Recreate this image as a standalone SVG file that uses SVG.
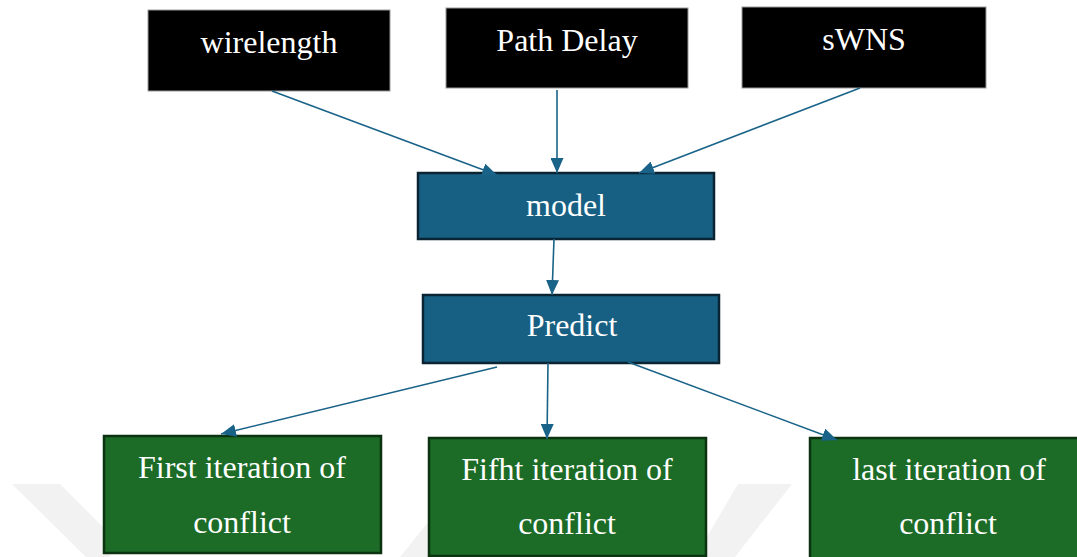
<svg xmlns="http://www.w3.org/2000/svg" width="1077" height="557" viewBox="0 0 1077 557">
  <style>
    .txt { font-family: "Liberation Serif", "Times New Roman", serif; font-size: 32px; fill: #ffffff; text-anchor: middle; }
    .input { fill: #000000; stroke: #9a9a9a; stroke-width: 1; }
    .core { fill: #186083; stroke: #0b2433; stroke-width: 2.5; }
    .result { fill: #1c6b26; stroke: #0b3310; stroke-width: 2.5; }
    .edge { stroke: #1a6388; stroke-width: 1.6; fill: none; marker-end: url(#arrow); }
    .mark { fill: #f2f2f2; }
  </style>
  <defs>
    <marker id="arrow" markerUnits="userSpaceOnUse" markerWidth="15" markerHeight="13" refX="15" refY="6.5" orient="auto">
      <path d="M0,0 L15,6.5 L0,13 z" fill="#1a6388"/>
    </marker>
  </defs>

  <rect width="1077" height="557" fill="#ffffff"/>

  <!-- faint background bands -->
  <g id="backdrop">
    <polygon class="mark" points="12,484 60,484 110,534 110,557 86,557"/>
    <polygon class="mark" points="400,557 430,520 430,557"/>
    <polygon class="mark" points="738,484 792,484 735,557 695,557"/>
  </g>

  <!-- input features -->
  <g id="node-wirelength">
    <rect class="input" x="148" y="10" width="242" height="81"/>
    <text class="txt" x="269" y="53">wirelength</text>
  </g>
  <g id="node-path-delay">
    <rect class="input" x="446" y="8" width="242" height="80"/>
    <text class="txt" x="567" y="51">Path Delay</text>
  </g>
  <g id="node-swns">
    <rect class="input" x="742" y="7" width="244" height="81"/>
    <text class="txt" x="864" y="50">sWNS</text>
  </g>

  <!-- model and prediction -->
  <g id="node-model">
    <rect class="core" x="418" y="173" width="296" height="66"/>
    <text class="txt" x="566" y="216">model</text>
  </g>
  <g id="node-predict">
    <rect class="core" x="423" y="295" width="296" height="68"/>
    <text class="txt" x="572" y="336">Predict</text>
  </g>

  <!-- conflict iterations -->
  <g id="node-first">
    <rect class="result" x="104" y="436" width="277" height="117"/>
    <text class="txt" x="242" y="478">First iteration of</text>
    <text class="txt" x="242" y="533">conflict</text>
  </g>
  <g id="node-fifth">
    <rect class="result" x="429" y="438" width="277" height="118"/>
    <text class="txt" x="567" y="480">Fifht iteration of</text>
    <text class="txt" x="567" y="534">conflict</text>
  </g>
  <g id="node-last">
    <rect class="result" x="810" y="438" width="290" height="125"/>
    <text class="txt" x="949" y="480">last iteration of</text>
    <text class="txt" x="948" y="534">conflict</text>
  </g>

  <!-- connectors -->
  <g id="connectors">
    <line class="edge" x1="272" y1="91" x2="497" y2="175"/>
    <line class="edge" x1="557" y1="90" x2="557" y2="173"/>
    <line class="edge" x1="860" y1="88" x2="639" y2="173"/>
    <line class="edge" x1="554" y1="239" x2="552" y2="295"/>
    <line class="edge" x1="497" y1="367" x2="221" y2="434"/>
    <line class="edge" x1="548" y1="363" x2="547" y2="439"/>
    <line class="edge" x1="628" y1="362" x2="837" y2="440"/>
  </g>
</svg>
